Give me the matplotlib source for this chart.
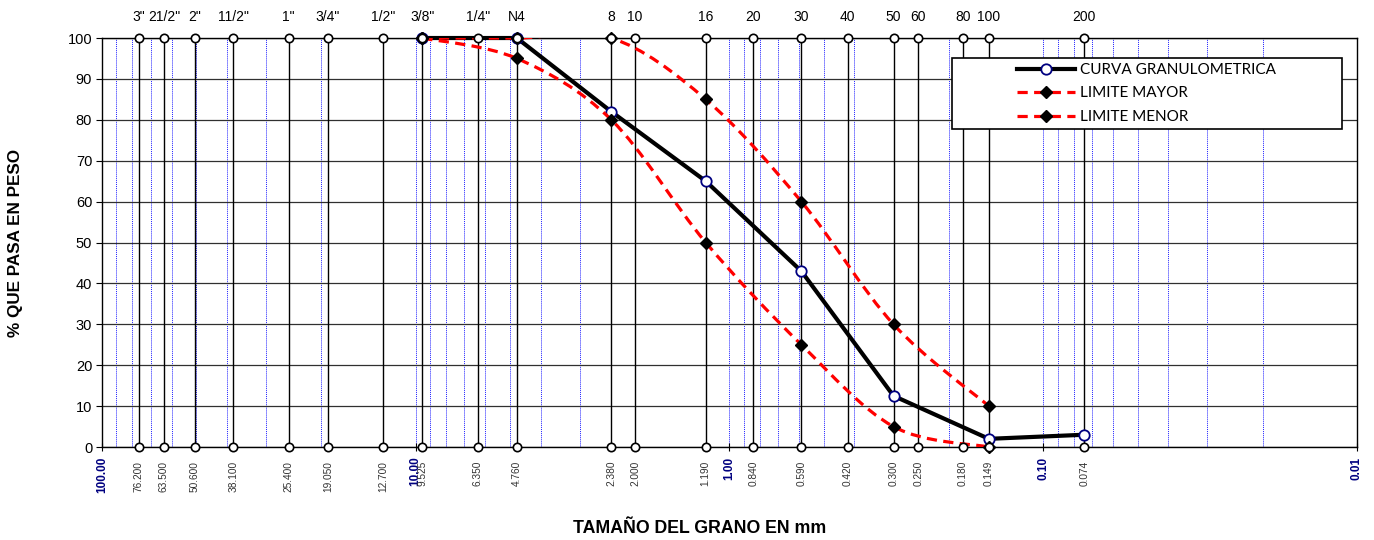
import numpy as np
import matplotlib.pyplot as plt
from matplotlib.path import Path
from matplotlib.patches import PathPatch, Rectangle
from matplotlib.lines import Line2D
from matplotlib.ticker import LogLocator, NullFormatter

plt.rcParams['font.family'] = ['Liberation Sans', 'DejaVu Sans']

# tamices
sieve_names = ['3"', '21/2"', '2"', '11/2"', '1"', '3/4"', '1/2"', '3/8"', '1/4"', 'N4',
               '8', '10', '16', '20', '30', '40', '50', '60', '80', '100', '200']
sieve_mm = [76.2, 63.5, 50.6, 38.1, 25.4, 19.05, 12.7, 9.525, 6.35, 4.76,
            2.38, 2.0, 1.19, 0.84, 0.59, 0.42, 0.3, 0.25, 0.18, 0.149, 0.074]

# curva granulometrica
curva_mm = [9.525, 4.76, 2.38, 1.19, 0.59, 0.3, 0.149, 0.074]
curva_pct = [100, 100, 82, 65, 43, 12.5, 2, 3]

# limites del huso
lim_mm = [9.525, 4.76, 2.38, 1.19, 0.59, 0.3, 0.149]
mayor_pct = [100, 100, 100, 85, 60, 30, 10]
menor_pct = [100, 95, 80, 50, 25, 5, 0]

decade_ticks = [100, 10, 1, 0.1, 0.01]
decade_labels = ['100.00', '10.00', '1.00', '0.10', '0.01']


def smooth_path(xs, ys):
    # curva suavizada tipo Excel (Bezier con puntos de control Catmull-Rom en log x)
    pts = np.column_stack([np.log10(xs), np.asarray(ys, float)])
    ext = np.vstack([pts[0], pts, pts[-1]])
    verts, codes = [pts[0]], [Path.MOVETO]
    for i in range(len(pts) - 1):
        p0, p1, p2, p3 = ext[i], ext[i + 1], ext[i + 2], ext[i + 3]
        verts += [p1 + (p2 - p0) / 6, p2 - (p3 - p1) / 6, p2]
        codes += [Path.CURVE4] * 3
    verts = np.array(verts)
    verts[:, 0] = 10 ** verts[:, 0]
    return Path(verts, codes)


fig = plt.figure(figsize=(13.74, 5.4), dpi=100)
ax = fig.add_axes([0.0742, 0.1722, 0.9134, 0.7574])

ax.set_xscale('log')
ax.set_xlim(100, 0.01)
ax.set_ylim(0, 100)
ax.set_yticks(range(0, 101, 10))
ax.tick_params(axis='y', labelsize=10.5, length=4, direction='out', pad=3)

ax.set_xticks(decade_ticks)
ax.set_xticklabels(decade_labels, rotation=90, fontsize=8.5, fontweight='bold', color='#000080')
ax.tick_params(axis='x', which='major', direction='inout', length=6, pad=4)
ax.xaxis.set_minor_locator(LogLocator(base=10, subs=range(2, 10)))
ax.xaxis.set_minor_formatter(NullFormatter())
ax.tick_params(axis='x', which='minor', length=0)

ax.set_axisbelow(True)
ax.grid(axis='x', which='both', color='#2020ff', ls=(0, (1, 1)), lw=0.7)
ax.grid(axis='y', color='#303030', lw=0.9)

for s in ax.spines.values():
    s.set_color('black')
    s.set_linewidth(1.0)

# lineas de tamices
ax.vlines(sieve_mm, 0, 100, color='black', lw=1.0, zorder=2)
for yy in (0, 100):
    ax.plot(sieve_mm, [yy] * len(sieve_mm), ls='none', marker='o', ms=6,
            mfc='white', mec='black', mew=1.2, clip_on=False, zorder=7)

trans = ax.get_xaxis_transform()
for name, s in zip(sieve_names, sieve_mm):
    ax.text(s, 1.034, name, transform=trans, ha='center', va='bottom', fontsize=10)
    ax.text(s, -0.034, f'{s:.3f}', transform=trans, ha='center', va='top',
            rotation=90, fontsize=7.3, color='#333333')

# series
ax.plot(curva_mm, curva_pct, color='black', lw=3, marker='o', ms=7.5,
        mfc='white', mec='#000080', mew=1.3, zorder=4, clip_on=False)
for pct in (mayor_pct, menor_pct):
    ax.add_patch(PathPatch(smooth_path(lim_mm, pct), fill=False, ec='red',
                           lw=2.3, ls=(0, (3.2, 2)), zorder=5))
    ax.plot(lim_mm, pct, ls='none', marker='D', ms=6, color='black', zorder=6,
            clip_on=False)

ax.set_ylabel('% QUE PASA EN PESO', fontsize=12.3, fontweight='bold')
ax.yaxis.set_label_coords(-0.063, 0.5)
ax.set_xlabel('TAMAÑO DEL GRANO EN mm', fontsize=12.8, fontweight='bold')
ax.xaxis.set_label_coords(0.4765, -0.178)

# leyenda
ax.add_patch(Rectangle((0.677, 0.778), 0.311, 0.173, transform=ax.transAxes,
                       fc='white', ec='black', lw=1.2, zorder=8, clip_on=False))
handles = [
    Line2D([], [], color='black', lw=3, marker='o', ms=7.5, mfc='white',
           mec='#000080', mew=1.3),
    Line2D([], [], color='red', lw=2.3, ls=(0, (3.2, 2)), marker='D', ms=6,
           mfc='black', mec='black'),
    Line2D([], [], color='red', lw=2.3, ls=(0, (3.2, 2)), marker='D', ms=6,
           mfc='black', mec='black'),
]
leg = ax.legend(handles, ['CURVA GRANULOMETRICA', 'LIMITE MAYOR', 'LIMITE MENOR'],
                loc='center', bbox_to_anchor=(0.8325, 0.8645), frameon=False,
                prop={'family': 'Lato', 'size': 11}, handlelength=3.8,
                handletextpad=0.35, labelspacing=0.62, borderpad=0.2)
leg.set_zorder(9)

fig.savefig('out.png', dpi=100)
